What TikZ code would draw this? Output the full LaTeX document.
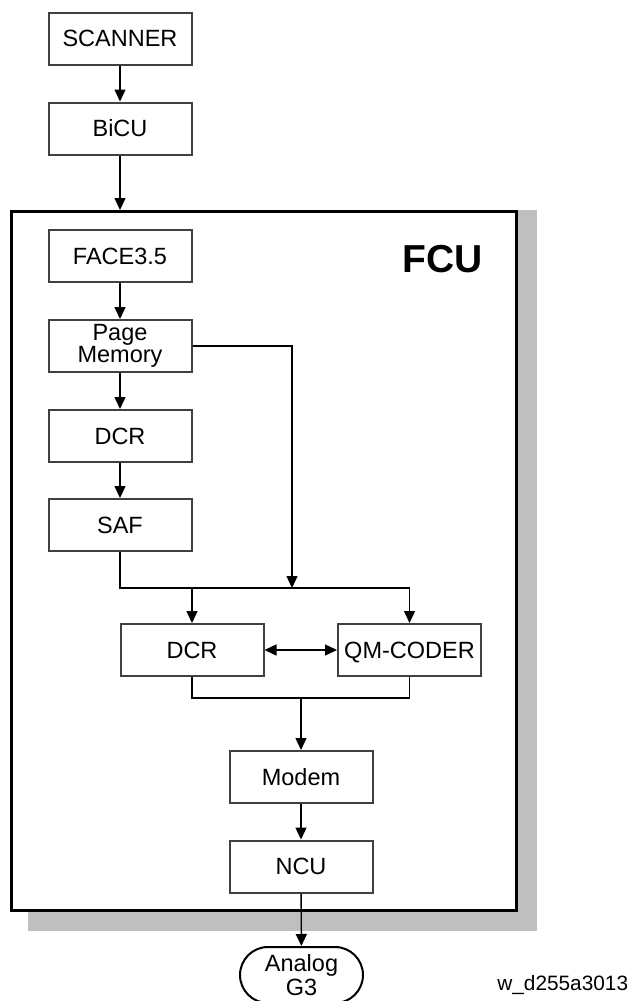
\documentclass[tikz,border=0pt]{standalone}
\usepackage{fontspec}
\setmainfont{Liberation Sans}
\usetikzlibrary{arrows.meta, positioning, shapes.misc}
\tikzset{
    blk/.style={rectangle, draw=black!75, line width=1pt, fill=white, minimum width=71.5pt, minimum height=26pt, align=center, inner sep=1pt, font=\fontsize{11.75}{11}\selectfont},
    term/.style={rounded rectangle, draw=black, line width=1pt, fill=white, minimum width=63.5pt, minimum height=28pt, align=center, inner sep=1pt, font=\fontsize{11.75}{9}\selectfont},
    fcubox/.style={rectangle, draw=black, line width=1.5pt, fill=white, minimum width=252.5pt, minimum height=349.5pt},
    arrow/.style={-{Triangle[length=6pt, width=5.5pt]}, line width=0.7pt},
    dblarrow/.style={{Triangle[length=6pt, width=5.5pt]}-{Triangle[length=6pt, width=5.5pt]}, line width=0.7pt},
    link/.style={line width=0.7pt}
}
\begin{document}
\begin{tikzpicture}[x=0.5pt, y=-0.5pt]
    \useasboundingbox (0,0) rectangle (633,1001);

    % --- Input side ---
    \node (scanner) [blk] at (120,38.5) {SCANNER};
    \node (bicu) [blk, below=18pt of scanner] {BiCU};

    % --- FCU board with shadow ---
    \fill [black!25] (28,210) rectangle (537,931);
    \node (fcu) [fcubox] at (264,561) {};
    \node (fcutitle) [font=\fontsize{19.5}{20}\selectfont\bfseries] at (442.5,259) {FCU};

    % --- Main column ---
    \node (face) [blk] at (120,256) {FACE3.5};
    \node (pagemem) [blk, below=18pt of face] {Page\\Memory};
    \node (dcra) [blk, below=18pt of pagemem] {DCR};
    \node (saf) [blk, below=17.5pt of dcra] {SAF};

    % --- Coding stage ---
    \node (dcrb) [blk] at (192,650) {DCR};
    \node (qm) [blk, text depth=0pt] at (409.5,650) {QM-CODER};
    \node (modem) [blk] at (301,777) {Modem};
    \node (ncu) [blk] at (301,866.5) {NCU};
    \node (analog) [term] at (301.5,975) {Analog\\G3};

    \coordinate (split) at (292,588);
    \coordinate (merge) at (301,698);

    \node (figid) [anchor=base west, inner sep=0pt, font=\fontsize{10.4}{12}\selectfont] at (497,990) {w\_d255a3013};

    \draw [arrow] (scanner) -- (bicu);
    \draw [arrow] (bicu) -- (bicu.south |- fcu.north);
    \draw [arrow] (face) -- (pagemem);
    \draw [arrow] (pagemem) -- (dcra);
    \draw [arrow] (dcra) -- (saf);

    \draw [arrow] (pagemem.east) -| (split);
    \draw [link] (saf.south) |- (split) -- (qm.north |- split);
    \draw [arrow] (dcrb.north |- split) -- (dcrb);
    \draw [arrow] (qm.north |- split) -- (qm);
    \draw [dblarrow] (dcrb) -- (qm);

    \draw [link] (dcrb.south) |- (qm.south |- merge) -- (qm.south);
    \draw [arrow] (merge) -- (modem);
    \draw [arrow] (modem) -- (ncu);
    \draw [arrow] (ncu) -- (analog);
\end{tikzpicture}
\end{document}
